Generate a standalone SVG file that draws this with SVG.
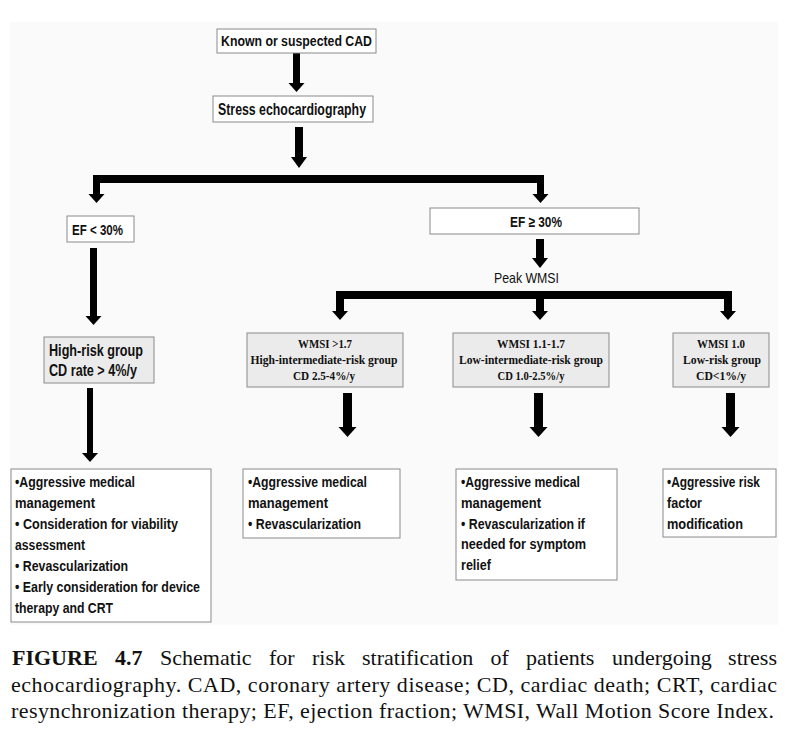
<svg xmlns="http://www.w3.org/2000/svg" width="794" height="732" viewBox="0 0 794 732">
<style>
.box{fill:#ffffff;stroke:#8a8a8a;stroke-width:1}
.gbox{fill:#ebebeb;stroke:#8a8a8a;stroke-width:1}
.sans{font-family:"Liberation Sans",Arial,sans-serif;font-weight:bold;fill:#111}
.reg{font-family:"Liberation Sans",Arial,sans-serif;fill:#111}
.ser{font-family:"Liberation Serif","Times New Roman",serif;font-weight:bold;fill:#111;font-size:13px}
.bul{font-family:"Liberation Sans",Arial,sans-serif;font-weight:bold;fill:#111;font-size:14.5px}
.cap{font-family:"Liberation Serif","Times New Roman",serif;fill:#111;font-size:22px}
.shaft{fill:#000}
</style>
<rect x="0" y="0" width="794" height="732" fill="#ffffff"/>
<rect x="10" y="22" width="768" height="603" fill="#fafafa"/>

<g id="connectors">
  <!-- Known -> Stress -->
  <rect class="shaft" x="293" y="53" width="7" height="31"/>
  <polygon points="288.5,83 304.5,83 296.5,92"/>
  <!-- Stress -> bar -->
  <rect class="shaft" x="295" y="127" width="8" height="31"/>
  <polygon points="291,157 307,157 299,168"/>
  <!-- bar 1 -->
  <rect class="shaft" x="93" y="175" width="451" height="8"/>
  <rect class="shaft" x="93" y="175" width="7" height="20"/>
  <polygon points="88.5,194 104.5,194 96.5,203"/>
  <rect class="shaft" x="537" y="175" width="7" height="20"/>
  <polygon points="532.5,194 548.5,194 540.5,203"/>
  <!-- EF<30 -> High-risk -->
  <rect class="shaft" x="90" y="248" width="7" height="69"/>
  <polygon points="85.5,316 101.5,316 93.5,325"/>
  <!-- EF>=30 -> Peak WMSI -->
  <rect class="shaft" x="536" y="239" width="8" height="20"/>
  <polygon points="532,258 548,258 540,268"/>
  <!-- bar 2 -->
  <rect class="shaft" x="336" y="291" width="396" height="8"/>
  <rect class="shaft" x="336" y="291" width="8" height="21"/>
  <polygon points="332,311 348,311 340,320"/>
  <rect class="shaft" x="536" y="291" width="8" height="21"/>
  <polygon points="532,311 548,311 540,320"/>
  <rect class="shaft" x="724" y="291" width="8" height="21"/>
  <polygon points="720,311 736,311 728,320"/>
  <!-- High-risk -> bullets -->
  <rect class="shaft" x="87" y="388" width="6" height="66"/>
  <polygon points="82,453 98,453 90,462"/>
  <!-- WMSI boxes -> bullets -->
  <rect class="shaft" x="343" y="393" width="9" height="35"/>
  <polygon points="338.5,427 356.5,427 347.5,437"/>
  <rect class="shaft" x="534" y="393" width="9" height="35"/>
  <polygon points="529.5,427 547.5,427 538.5,437"/>
  <rect class="shaft" x="726" y="393" width="9" height="35"/>
  <polygon points="721.5,427 739.5,427 730.5,437"/>
</g>

<g id="node-cad">
  <rect class="box" x="217" y="29" width="159" height="24"/>
  <text class="sans" x="296.5" y="46" font-size="14" text-anchor="middle" textLength="151" lengthAdjust="spacingAndGlyphs">Known or suspected CAD</text>
</g>
<g id="node-stress">
  <rect class="box" x="213" y="96" width="160" height="26"/>
  <text class="sans" x="292" y="115" font-size="16" text-anchor="middle" textLength="148" lengthAdjust="spacingAndGlyphs">Stress echocardiography</text>
</g>
<g id="node-ef-low">
  <rect class="box" x="67" y="216" width="67" height="26"/>
  <text class="sans" x="72" y="235" font-size="15" textLength="51" lengthAdjust="spacingAndGlyphs">EF &lt; 30%</text>
</g>
<g id="node-ef-high">
  <rect class="box" x="430" y="208" width="209" height="26"/>
  <text class="sans" x="510" y="227" font-size="15" textLength="52" lengthAdjust="spacingAndGlyphs">EF ≥ 30%</text>
</g>
<g id="label-peak">
  <text class="reg" x="494" y="283" font-size="15" textLength="65" lengthAdjust="spacingAndGlyphs">Peak WMSI</text>
</g>
<g id="node-high-risk">
  <rect class="gbox" x="44" y="337" width="110" height="46"/>
  <text class="sans" x="49" y="356" font-size="16" textLength="94" lengthAdjust="spacingAndGlyphs">High-risk group</text>
  <text class="sans" x="49" y="376" font-size="16" textLength="88" lengthAdjust="spacingAndGlyphs">CD rate &gt; 4%/y</text>
</g>
<g id="node-wmsi-high">
  <rect class="gbox" x="247" y="333" width="156" height="54"/>
  <text class="ser" x="325" y="348" text-anchor="middle" textLength="54" lengthAdjust="spacingAndGlyphs">WMSI &gt;1.7</text>
  <text class="ser" x="324" y="364" text-anchor="middle" textLength="147" lengthAdjust="spacingAndGlyphs">High-intermediate-risk group</text>
  <text class="ser" x="324" y="380" text-anchor="middle" textLength="62" lengthAdjust="spacingAndGlyphs">CD 2.5-4%/y</text>
</g>
<g id="node-wmsi-mid">
  <rect class="gbox" x="453" y="333" width="156" height="54"/>
  <text class="ser" x="531" y="348" text-anchor="middle" textLength="68" lengthAdjust="spacingAndGlyphs">WMSI 1.1-1.7</text>
  <text class="ser" x="531" y="364" text-anchor="middle" textLength="144" lengthAdjust="spacingAndGlyphs">Low-intermediate-risk group</text>
  <text class="ser" x="531" y="380" text-anchor="middle" textLength="67" lengthAdjust="spacingAndGlyphs">CD 1.0-2.5%/y</text>
</g>
<g id="node-wmsi-low">
  <rect class="gbox" x="673" y="333" width="96" height="54"/>
  <text class="ser" x="721" y="348" text-anchor="middle" textLength="48" lengthAdjust="spacingAndGlyphs">WMSI 1.0</text>
  <text class="ser" x="722" y="364" text-anchor="middle" textLength="78" lengthAdjust="spacingAndGlyphs">Low-risk group</text>
  <text class="ser" x="721" y="380" text-anchor="middle" textLength="50" lengthAdjust="spacingAndGlyphs">CD&lt;1%/y</text>
</g>
<g id="node-mgmt-high">
  <rect class="box" x="11" y="469" width="200" height="153"/>
  <text class="bul" x="15" y="487" textLength="120" lengthAdjust="spacingAndGlyphs">•Aggressive medical</text>
  <text class="bul" x="15" y="508" textLength="80" lengthAdjust="spacingAndGlyphs">management</text>
  <text class="bul" x="15" y="529" textLength="163" lengthAdjust="spacingAndGlyphs">• Consideration for viability</text>
  <text class="bul" x="15" y="550" textLength="70" lengthAdjust="spacingAndGlyphs">assessment</text>
  <text class="bul" x="15" y="571" textLength="113" lengthAdjust="spacingAndGlyphs">• Revascularization</text>
  <text class="bul" x="15" y="592" textLength="185" lengthAdjust="spacingAndGlyphs">• Early consideration for device</text>
  <text class="bul" x="15" y="613" textLength="98" lengthAdjust="spacingAndGlyphs">therapy and CRT</text>
</g>
<g id="node-mgmt-hi-int">
  <rect class="box" x="243" y="469" width="157" height="69"/>
  <text class="bul" x="248" y="487" textLength="119" lengthAdjust="spacingAndGlyphs">•Aggressive medical</text>
  <text class="bul" x="248" y="508" textLength="80" lengthAdjust="spacingAndGlyphs">management</text>
  <text class="bul" x="248" y="529" textLength="113" lengthAdjust="spacingAndGlyphs">• Revascularization</text>
</g>
<g id="node-mgmt-lo-int">
  <rect class="box" x="456" y="469" width="161" height="111"/>
  <text class="bul" x="461" y="487" textLength="119" lengthAdjust="spacingAndGlyphs">•Aggressive medical</text>
  <text class="bul" x="461" y="508" textLength="80" lengthAdjust="spacingAndGlyphs">management</text>
  <text class="bul" x="461" y="529" textLength="124" lengthAdjust="spacingAndGlyphs">• Revascularization if</text>
  <text class="bul" x="461" y="549" textLength="125" lengthAdjust="spacingAndGlyphs">needed for symptom</text>
  <text class="bul" x="461" y="570" textLength="30" lengthAdjust="spacingAndGlyphs">relief</text>
</g>
<g id="node-mgmt-low">
  <rect class="box" x="663" y="469" width="113" height="68"/>
  <text class="bul" x="667" y="487" textLength="93" lengthAdjust="spacingAndGlyphs">•Aggressive risk</text>
  <text class="bul" x="667" y="508" textLength="35" lengthAdjust="spacingAndGlyphs">factor</text>
  <text class="bul" x="667" y="529" textLength="76" lengthAdjust="spacingAndGlyphs">modification</text>
</g>

<g id="caption">
  <text class="cap" y="665"><tspan x="12" font-weight="bold">FIGURE</tspan><tspan x="115" font-weight="bold">4.7</tspan><tspan x="160">Schematic</tspan><tspan x="269">for</tspan><tspan x="312">risk</tspan><tspan x="362">stratification</tspan><tspan x="490.5">of</tspan><tspan x="526">patients</tspan><tspan x="612">undergoing</tspan><tspan x="777" text-anchor="end">stress</tspan></text>
  <text class="cap" x="11" y="692" textLength="766" lengthAdjust="spacing">echocardiography. CAD, coronary artery disease; CD, cardiac death; CRT, cardiac</text>
  <text class="cap" x="11" y="718" textLength="763" lengthAdjust="spacing">resynchronization therapy; EF, ejection fraction; WMSI, Wall Motion Score Index.</text>
</g>
</svg>
